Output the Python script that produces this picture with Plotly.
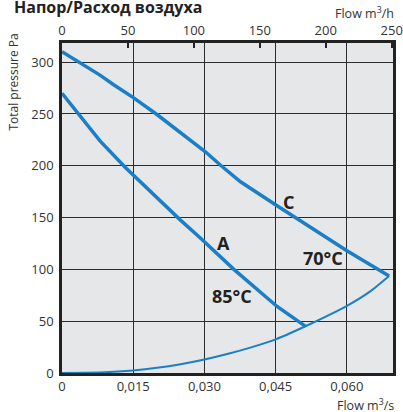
import plotly.graph_objects as go

# fan curve C (70°C)
c_flow = [0.0, 0.0038, 0.0080, 0.0108, 0.0151, 0.0200, 0.0249, 0.0302, 0.0334, 0.0376,
          0.0453, 0.0502, 0.0601, 0.0689]
c_pressure = [310, 299.6, 287.5, 278.5, 265.5, 249.5, 232.3, 213.5, 200.5, 184.5,
              161.5, 146.8, 117.8, 93.6]

# fan curve A (85°C)
a_flow = [0.0, 0.0034, 0.0080, 0.0133, 0.0207, 0.0249, 0.0292, 0.0362, 0.0453, 0.0513]
a_pressure = [270, 250.5, 224, 198.5, 165.5, 147.8, 130, 100, 64.2, 45]

# system curve
s_flow = [0.0, 0.005, 0.010, 0.015, 0.020, 0.025, 0.030, 0.035, 0.040, 0.045,
          0.0524, 0.0601, 0.065, 0.0689]
s_pressure = [0, 0.3, 1, 2.5, 5, 8.5, 13, 18.5, 25, 32.5, 47.5, 65, 79, 93.6]

x_ticks = [0, 0.015, 0.030, 0.045, 0.060]
x_ticktext = ["0", "0,015", "0,030", "0,045", "0,060"]
top_ticks = [0, 50, 100, 150, 200, 250]
y_ticks = [0, 50, 100, 150, 200, 250, 300]

X_MAX = 0.06972
Y_MAX = 318.5
BLUE = "#1a7fc6"
TEXT = "#333333"
FONT = "Open Sans, Noto Sans, sans-serif"

fig = go.Figure()
fig.add_trace(go.Scatter(x=c_flow, y=c_pressure, mode="lines",
                         line={"color": BLUE, "width": 3.5},
                         showlegend=False, hoverinfo="skip"))
fig.add_trace(go.Scatter(x=a_flow, y=a_pressure, mode="lines",
                         line={"color": BLUE, "width": 3.5},
                         showlegend=False, hoverinfo="skip"))
fig.add_trace(go.Scatter(x=s_flow, y=s_pressure, mode="lines",
                         line={"color": BLUE, "width": 2, "shape": "spline", "smoothing": 0.6},
                         showlegend=False, hoverinfo="skip"))
# invisible trace to activate top axis (m3/h)
fig.add_trace(go.Scatter(x=[0, X_MAX * 3600], y=[0, 0], xaxis="x2", mode="lines",
                         line={"width": 0}, showlegend=False, hoverinfo="skip"))

labels = [
    ("C", 0.0477, 165),
    ("70°C", 0.0550, 111),
    ("A", 0.0341, 125),
    ("85°C", 0.0359, 74),
]
annotations = [
    dict(text=t, x=x, y=y, xref="x", yref="y", showarrow=False,
         font={"size": 18, "color": "#222", "family": FONT, "weight": "bold"})
    for t, x, y in labels
]
annotations += [
    dict(text="Напор/Расход воздуха", x=-0.152, y=1.108, xref="paper", yref="paper",
         xanchor="left", yanchor="middle", showarrow=False,
         font={"size": 16, "color": "#222", "family": FONT, "weight": "bold"}),
    dict(text="Flow m<sup>3</sup>/h", x=1.008, y=1.09, xref="paper", yref="paper",
         xanchor="right", yanchor="middle", showarrow=False,
         font={"size": 12.5, "color": TEXT, "family": FONT}),
    dict(text="Flow m<sup>3</sup>/s", x=1.008, y=-0.096, xref="paper", yref="paper",
         xanchor="right", yanchor="middle", showarrow=False,
         font={"size": 12.5, "color": TEXT, "family": FONT}),
    dict(text="Total pressure Pa", x=-0.145, y=0.88, xref="paper", yref="paper",
         xanchor="center", yanchor="middle", textangle=-90, showarrow=False,
         font={"size": 12, "color": TEXT, "family": FONT}),
]

fig.update_layout(
    width=403,
    height=412,
    margin={"l": 62, "r": 10, "t": 43, "b": 39},
    paper_bgcolor="white",
    plot_bgcolor="#e6e7e9",
    font={"family": FONT, "color": TEXT, "size": 13},
    annotations=annotations,
    xaxis=dict(range=[0, X_MAX], tickvals=x_ticks, ticktext=x_ticktext,
               showgrid=True, gridcolor="#2b2b2b", gridwidth=1.2,
               showline=True, linecolor="#222", linewidth=2.5, mirror=True,
               ticks="", zeroline=False, automargin=False,
               tickfont={"size": 13, "color": TEXT}),
    xaxis2=dict(range=[0, X_MAX * 3600], overlaying="x", side="top",
                tickvals=top_ticks, showgrid=False, showline=False, zeroline=False,
                ticks="inside", ticklen=5, tickwidth=2, tickcolor="#222",
                ticklabelstandoff=4, automargin=False,
                tickfont={"size": 13, "color": TEXT}),
    yaxis=dict(range=[0, Y_MAX], tickvals=y_ticks,
               showgrid=True, gridcolor="#2b2b2b", gridwidth=1.2,
               showline=True, linecolor="#222", linewidth=2.5, mirror=True,
               ticks="", zeroline=False, automargin=False, ticklabelstandoff=3,
               tickfont={"size": 13, "color": TEXT}),
)

# the page body has a default 8px margin; drop it so the figure fills the window
fig.write_html("out.html", config={"displayModeBar": False},
               post_script="document.body.style.margin = '0';")
